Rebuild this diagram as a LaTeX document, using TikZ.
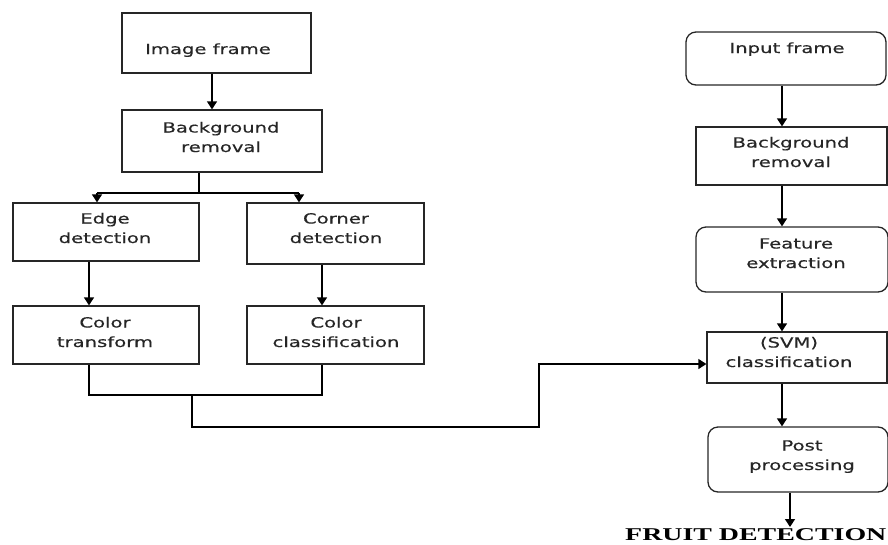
\documentclass[tikz,border=0pt]{standalone}
\usepackage{fontspec}
\usetikzlibrary{arrows.meta}
\newfontfamily\boxfont[FakeStretch=1.4,FakeBold=0.4]{DejaVu Sans}
\newfontfamily\endfont[FakeStretch=1.55]{Liberation Serif Bold}
\begin{document}
\begin{tikzpicture}[x=1pt,y=-1pt]
            \tikzstyle{box} = [draw=black!85, line width=1.3pt, inner sep=0pt]
            \tikzstyle{rbox} = [box, rounded corners=10pt]
            \tikzstyle{txt} = [align=center, inner sep=0pt, anchor=base, text=black!85,
                               font=\boxfont\fontsize{14}{19.5}\selectfont]
            \tikzstyle{arr} = [line width=1.3pt, -{Triangle[length=8pt,width=10pt]}]
            \tikzstyle{wire} = [line width=1.3pt]
            \useasboundingbox (0,0) rectangle (888,544);

            \node[box, minimum width=189pt, minimum height=60pt](img) at (216.5,43){};
            \node[box, minimum width=200pt, minimum height=62pt](bgl) at (222,141){};
            \node[box, minimum width=186pt, minimum height=58pt](edge) at (106,232){};
            \node[box, minimum width=177pt, minimum height=61pt](corner) at (335.5,233.5){};
            \node[box, minimum width=186pt, minimum height=58pt](ctr) at (106,335){};
            \node[box, minimum width=177pt, minimum height=58pt](ccl) at (335.5,335){};

            \node[rbox, minimum width=200pt, minimum height=53pt](inp) at (786,58.5){};
            \node[box, minimum width=191pt, minimum height=58pt](bgr) at (791.5,156){};
            \node[rbox, minimum width=192pt, minimum height=65pt](fex) at (792,259.5){};
            \node[box, minimum width=180pt, minimum height=51pt](svm) at (797,357.5){};
            \node[rbox, minimum width=180pt, minimum height=65pt](post) at (798,459.5){};

            \node[txt](timg) at (208,54){Image frame};
            \node[txt](tbgl) at (221,152){Background\\removal};
            \node[txt](tedge) at (105,243){Edge\\detection};
            \node[txt](tcorner) at (336,243){Corner\\detection};
            \node[txt](tctr) at (105,347){Color\\transform};
            \node[txt](tccl) at (336,347){Color\\classification};
            \node[txt](tinp) at (787,53){Input frame};
            \node[txt](tbgr) at (791,167){Background\\removal};
            \node[txt](tfex) at (796,268){Feature\\extraction};
            \node[txt](tsvm) at (789,367){(SVM)\\classification};
            \node[txt](tpost) at (802,470){Post\\processing};
            \node[inner sep=0pt, anchor=base west, font=\endfont\fontsize{18}{20}\selectfont](res) at (625,540.5){FRUIT DETECTION};

            \coordinate(split) at (199,193);
            \coordinate(join) at (192,395);

            \draw[arr] (img.south -| 212,0) -- (bgl.north -| 212,0);
            \draw[wire] (bgl.south -| split) -- (split);
            \draw[wire] (97,193) -- (299,193);
            \draw[arr] (97,193) -- (edge.north -| 97,0);
            \draw[arr] (299,193) -- (corner.north -| 299,0);
            \draw[arr] (edge.south -| 89,0) -- (ctr.north -| 89,0);
            \draw[arr] (corner.south -| 322,0) -- (ccl.north -| 322,0);
            \draw[wire] (ctr.south -| 89,0) |- (join) -| (ccl.south -| 322,0);
            \draw[arr] (join) |- (539,427) |- (svm.west |- 0,364);

            \draw[arr] (inp.south -| 782,0) -- (bgr.north -| 782,0);
            \draw[arr] (bgr.south -| 782,0) -- (fex.north -| 782,0);
            \draw[arr] (fex.south -| 782,0) -- (svm.north -| 782,0);
            \draw[arr] (svm.south -| 782,0) -- (post.north -| 782,0);
            \draw[arr] (post.south -| 790,0) -- (790,527);
      \end{tikzpicture}
\end{document}
